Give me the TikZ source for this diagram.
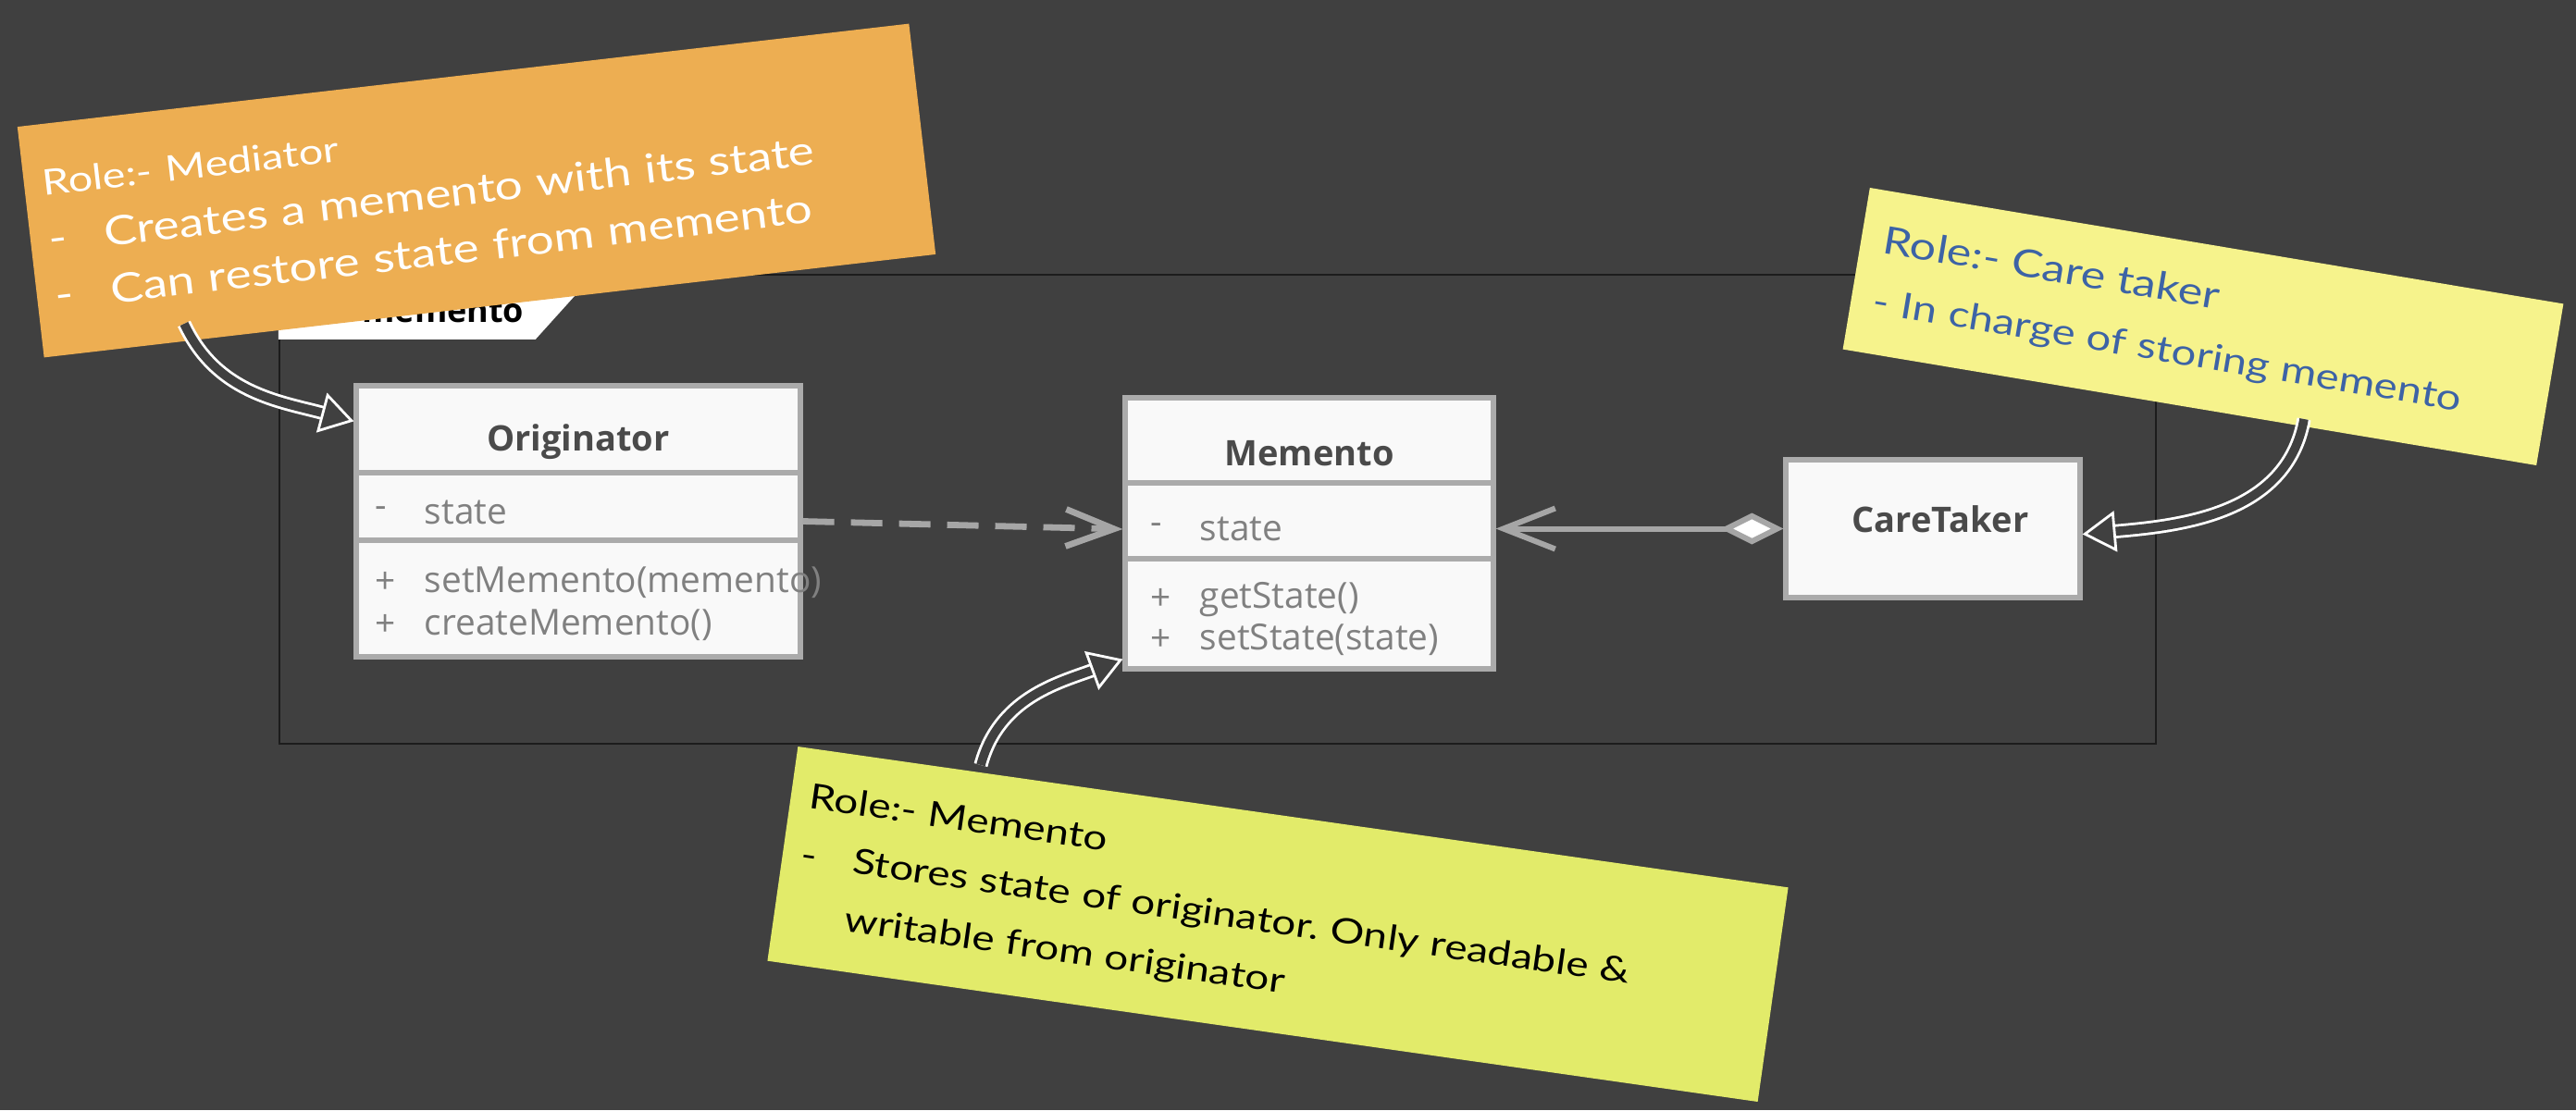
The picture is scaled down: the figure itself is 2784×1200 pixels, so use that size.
\documentclass[tikz,border=0pt]{standalone}
\usepackage{fontspec}
\setsansfont{Open Sans}
\newfontfamily\notefont[FakeStretch=1.22]{Lato}
\usetikzlibrary{arrows.meta, positioning, calc}
\frenchspacing

\definecolor{bggray}{HTML}{404040}
\definecolor{framec}{HTML}{1C1C1C}
\definecolor{boxfill}{HTML}{F9F9F9}
\definecolor{boxline}{HTML}{ABABAB}
\definecolor{headc}{HTML}{4A4A4A}
\definecolor{memberc}{HTML}{808080}
\definecolor{linkc}{HTML}{A6A6A6}
\definecolor{orangenote}{HTML}{EDAE52}
\definecolor{yellownote}{HTML}{F6F38C}
\definecolor{limenote}{HTML}{E2EB6A}
\definecolor{bluetext}{HTML}{3D63A6}

\begin{document}
\begin{tikzpicture}[
  x=0.25pt, y=0.25pt,
  umlbox/.style={draw=boxline, line width=1.3pt, fill=boxfill, inner sep=0pt},
  divider/.style={draw=boxline, line width=1.3pt},
  head/.style={font=\sffamily\bfseries\fontsize{9.5}{11}\selectfont, text=headc, inner sep=0pt},
  member/.style={font=\sffamily\fontsize{9.7}{11}\selectfont, text=memberc, anchor=west, inner sep=0pt},
  depend/.style={draw=linkc, line width=1.7pt, dash pattern=on 8.5pt off 4.5pt,
                 -{Straight Barb[length=13pt,width=10pt]}},
  assoc/.style={draw=linkc, line width=1.5pt,
                {Diamond[length=17pt,width=8.5pt,fill=white]}-{Straight Barb[length=14pt,width=11pt]}},
  note/.style={inner xsep=5pt, inner ysep=0pt, align=left},
  callout/.style={draw=white, line width=0.7pt, double=bggray, double distance=2.4pt,
                  -{Triangle[length=9pt,width=11pt,fill=bggray]}}
]

% background
\fill[bggray] (0,0) rectangle (2784,-1200);
\useasboundingbox (0,0) rectangle (2784,-1200);

% package frame and its tab
\node[draw=framec, line width=0.6pt, minimum width=507pt, minimum height=126.75pt, inner sep=0pt]
  (pkg) at (1316,-550.5) {};
\fill[white] (pkg.north west) -- ++(342,0) -- ++(-64,-71) -- ++(-278,0) -- cycle;
\node[font=\sffamily\bfseries\fontsize{9}{10}\selectfont, text=black, anchor=east, inner sep=0pt]
  (pkgname) at (567,-337) {memento};

% Originator
\node[umlbox, minimum width=120pt, minimum height=73.25pt] (orig) at (625,-563.5) {};
\draw[divider] (orig.west |- 0,-511) -- (orig.east |- 0,-511);
\draw[divider] (orig.west |- 0,-584) -- (orig.east |- 0,-584);
\node[head] (origname) at (625,-478) {Originator};
\node[member] (origvis) at (405,-554) {-};
\node[member] (origattr) at (458,-554) {state};
\node[member] (origvis1) at (405,-630) {+};
\node[member] (origop1) at (458,-630) {setMemento(memento)};
\node[member] (origvis2) at (405,-676) {+};
\node[member] (origop2) at (458,-676) {createMemento()};

% Memento
\node[umlbox, minimum width=99.5pt, minimum height=73.25pt] (mem) at (1415,-576.5) {};
\draw[divider] (mem.west |- 0,-522) -- (mem.east |- 0,-522);
\draw[divider] (mem.west |- 0,-604) -- (mem.east |- 0,-604);
\node[head] (memname) at (1415,-490) {Memento};
\node[member] (memvis) at (1243,-572) {-};
\node[member] (memattr) at (1296,-572) {state};
\node[member] (memvis1) at (1243,-648) {+};
\node[member] (memop1) at (1296,-648) {getState()};
\node[member] (memvis2) at (1243,-692) {+};
\node[member] (memop2) at (1296,-692) {setState(state)};

% CareTaker
\node[umlbox, minimum width=79.5pt, minimum height=37.25pt] (ct) at (2089,-571.5) {};
\node[head] (ctname) at ([xshift=2pt,yshift=2.5pt]ct.center) {CareTaker};

% relations
\draw[depend] (orig.east) -- (mem.west |- memattr);
\draw[assoc] (ct.west) -- (ct.west -| mem.east);

% sticky notes
\node[note, fill=orangenote, text=white, rotate=6.6, minimum width=242.5pt, minimum height=62.75pt,
      text width=232.5pt, font=\notefont\fontsize{10.9}{15.5}\selectfont] (mednote) at (515,-206)
  {{\fontsize{9.6}{15.5}\selectfont Role:- Mediator}\\
   \makebox[15pt][l]{-}Creates a memento with its state\\
   \makebox[15pt][l]{-}Can restore state from memento};

\node[note, fill=yellownote, text=bluetext, rotate=-9.5, minimum width=190pt, minimum height=44.25pt,
      inner xsep=6pt, text width=178pt, font=\notefont\fontsize{9.7}{16.4}\selectfont] (ctnote) at (2381,-353)
  {{\fontsize{10.3}{16.4}\selectfont Role:- Care taker}\\
   - In charge of storing memento};

\node[note, fill=limenote, text=black, rotate=-8.1, minimum width=270.25pt, minimum height=58.5pt,
      text width=260pt, font=\notefont\fontsize{9.4}{15.7}\selectfont] (memnote) at (1381,-999)
  {Role:- Memento\\
   \makebox[14pt][l]{-}Stores state of originator. Only readable \&\\
   \makebox[14pt][l]{}writable from originator};

% callout arrows
\coordinate (medtail) at (199,-350);
\coordinate (cttail) at (2490,-453);
\coordinate (memtail) at (1060,-827);
\draw[callout] (medtail) to[out=-65, in=165] ([yshift=-10.25pt]orig.north west);
\draw[callout] (cttail) to[out=-100, in=5] ([yshift=-1.5pt]ct.east);
\draw[callout] (memtail) to[out=75, in=200] ([yshift=3.25pt]mem.south west);

\end{tikzpicture}
\end{document}
